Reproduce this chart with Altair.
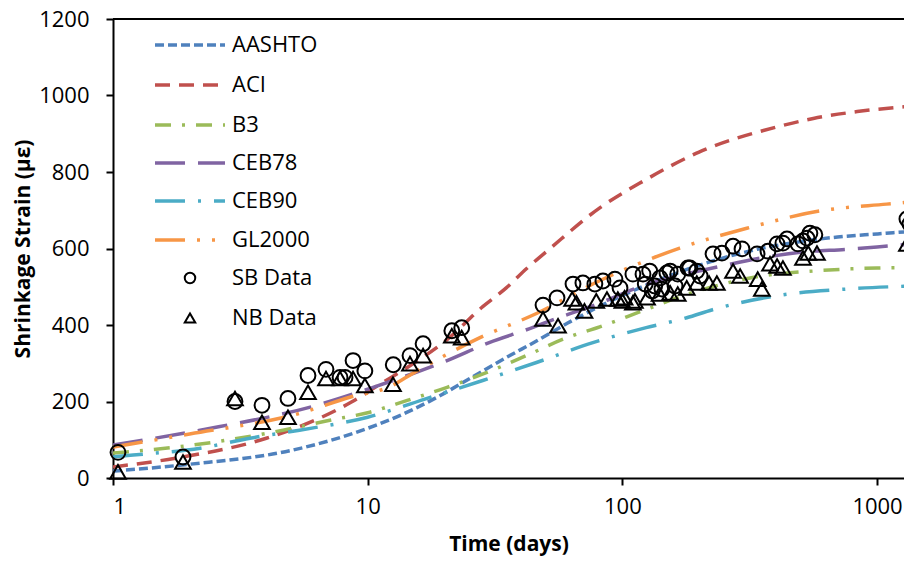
import altair as alt
import pandas as pd

# ---------------- data ----------------
aashto_t = [1, 2, 5, 10, 14.3, 19.2, 25.9, 35, 46, 61, 82, 117, 200, 350, 500, 700, 1000, 1371]
aashto_v = [18, 36, 72, 130, 172, 215, 265, 315, 358, 405, 450, 497, 556, 600, 618, 630, 638, 645]

aci_t = [1, 1.88, 4, 8.6, 11.3, 14.3, 20.5, 28.3, 35, 42, 52, 81, 120, 200, 417, 562, 836, 1371]
aci_v = [29, 55, 104, 198, 247, 289, 362, 448, 497, 547, 600, 705, 775, 852, 920, 940, 958, 972]

b3_t = [1, 2, 4.65, 7.1, 10.2, 14.3, 20.5, 29.4, 42, 60.7, 81.5, 120, 179, 226, 350, 562, 1000, 1371]
b3_v = [65, 85, 125, 151, 172, 203, 237, 276, 320, 367, 395, 437, 480, 500, 528, 541, 549, 550]

ceb78_t = [1, 2.2, 6.3, 10.5, 20.5, 30, 43, 52, 80, 117, 226, 500, 760, 1000, 1371]
ceb78_v = [86, 125, 190, 237, 307, 354, 390, 411, 455, 500, 549, 590, 598, 604, 612]

ceb90_t = [1, 1.2, 2.2, 3.45, 5.4, 10, 17.6, 28.3, 46, 76.6, 124, 179, 226, 417, 762, 1371]
ceb90_v = [55, 60, 78, 104, 125, 159, 211, 255, 302, 354, 393, 419, 440, 478, 494, 502]

gl_t = [1, 2, 5.4, 8.5, 12.5, 14.3, 27.6, 46, 81, 168, 308, 595, 1090, 1371]
gl_v = [81, 115, 169, 211, 242, 265, 367, 430, 515, 601, 653, 698, 716, 722]

sb_t = [1.046, 1.883, 3.013, 3.846, 4.864, 5.83, 6.86, 7.79, 8.15, 8.76, 9.75, 12.6, 14.66,
        16.5, 21.4, 23.4, 48.8, 55.4, 64, 70, 78, 83.9, 93.5, 97.9, 110, 120.5, 123, 128,
        131, 134, 140.5, 143, 149.6, 154, 161, 165, 181, 184, 196, 202, 227, 246, 272, 295,
        338, 373, 405, 427, 443, 489, 512, 531, 545, 570, 1310, 1346]
sb_v = [67, 55, 200, 190, 208, 268, 284, 263, 263, 307, 280, 296, 320,
        351, 385, 393, 452, 471, 507, 510, 507, 515, 520, 497, 533, 533, 507, 541,
        489, 502, 523, 494, 536, 541, 502, 533, 549, 549, 541, 528, 586, 588, 606, 599,
        586, 593, 612, 614, 625, 612, 620, 627, 640, 636, 677, 664]

nb_t = [1.046, 1.883, 3.013, 3.846, 4.864, 5.83, 6.86, 7.79, 8.76, 9.75, 12.57, 14.66, 16.5,
        21.4, 23.4, 48.8, 55.9, 63.5, 66, 71, 79, 87, 96, 100, 102, 110, 112, 125, 140,
        154, 165, 179, 196, 219, 235, 272, 290, 340, 353, 380, 405, 427, 512, 537, 581, 1310]
nb_v = [16, 42, 208, 146, 159, 224, 260, 260, 260, 242, 245, 299, 320,
        372, 367, 416, 398, 468, 458, 437, 463, 468, 468, 463, 471, 458, 463, 471, 481,
        484, 481, 497, 510, 510, 510, 541, 528, 520, 494, 560, 554, 549, 575, 588, 588, 612]

model_names = ["AASHTO", "ACI", "B3", "CEB78", "CEB90", "GL2000"]
model_t = [aashto_t, aci_t, b3_t, ceb78_t, ceb90_t, gl_t]
model_v = [aashto_v, aci_v, b3_v, ceb78_v, ceb90_v, gl_v]
colors = ["#4F81BD", "#C0504D", "#9BBB59", "#8064A2", "#4BACC6", "#F79646"]
dashes = [[9, 4], [15, 9], [16, 11, 3, 11], [30, 13], [30, 13, 3, 13], [30, 12, 3, 12, 3, 12]]

FONT = "Open Sans"
W, H = 791, 459
xs = alt.Scale(type="log", domain=[1, 1276])
ys = alt.Scale(domain=[0, 1200])

xaxis = alt.Axis(values=[1, 10, 100, 1000], format="d", grid=False, title="Time (days)",
                 labelFontSize=22, labelFont=FONT, labelColor="black", labelPadding=11,
                 titleFont=FONT, titleFontSize=21, titleFontWeight="bold", titleColor="black",
                 titlePadding=16, domainColor="black", domainWidth=2, tickColor="black",
                 tickWidth=2, tickSize=7)
yaxis = alt.Axis(values=[0, 200, 400, 600, 800, 1000, 1200], format="d", grid=False,
                 title="Shrinkage Strain (\u00b5\u03b5)",
                 labelFontSize=22, labelFont=FONT, labelColor="black", labelPadding=17,
                 titleFont=FONT, titleFontSize=21, titleFontWeight="bold", titleColor="black",
                 titlePadding=5, domainColor="black", domainWidth=2, tickColor="black",
                 tickWidth=2, tickSize=7)

X = alt.X("t:Q", scale=xs, axis=xaxis)
Y = alt.Y("s:Q", scale=ys, axis=yaxis)

layers = []
for name, t, v, c, d in zip(model_names, model_t, model_v, colors, dashes):
    df = pd.DataFrame({"t": t, "s": v})
    layers.append(alt.Chart(df).mark_line(color=c, strokeWidth=3.5, strokeDash=d,
                                          interpolate="monotone", clip=True).encode(x=X, y=Y))

sb = pd.DataFrame({"t": sb_t, "s": sb_v})
nb = pd.DataFrame({"t": nb_t, "s": nb_v})
layers.append(alt.Chart(sb).mark_point(shape="circle", filled=False, size=220, strokeWidth=2,
                                       color="black", opacity=1).encode(x=X, y=Y))
layers.append(alt.Chart(nb).mark_point(shape="triangle-up", filled=False, size=245, strokeWidth=2,
                                       color="black", opacity=1).encode(x=X, y=Y))

# top frame line
layers.append(alt.Chart(sb).mark_rule(color="black", strokeWidth=2).encode(
    x=alt.value(0), x2=alt.value(W + 10), y=alt.value(0)))

# manual legend
leg_rows = [26, 66, 106, 144, 182, 221, 259, 299]
legend_df = pd.DataFrame({"a": [0]})
for i, (name, c, d) in enumerate(zip(model_names, colors, dashes)):
    yy = leg_rows[i]
    layers.append(alt.Chart(legend_df).mark_rule(color=c, strokeWidth=3.5, strokeDash=d).encode(
        x=alt.value(42), x2=alt.value(112), y=alt.value(yy)))
    layers.append(alt.Chart(legend_df).mark_text(text=name, font=FONT, fontSize=22, color="black",
                                                 align="left", baseline="middle").encode(
        x=alt.value(119), y=alt.value(yy)))
for j, (name, shp) in enumerate([("SB Data", "circle"), ("NB Data", "triangle-up")]):
    yy = leg_rows[6 + j]
    layers.append(alt.Chart(legend_df).mark_point(shape=shp, filled=False, size=110, strokeWidth=2,
                                                  color="black", opacity=1).encode(
        x=alt.value(77), y=alt.value(yy)))
    layers.append(alt.Chart(legend_df).mark_text(text=name, font=FONT, fontSize=22, color="black",
                                                 align="left", baseline="middle").encode(
        x=alt.value(119), y=alt.value(yy)))

chart = alt.layer(*layers).properties(
    width=W, height=H, autosize="none",
    padding={"left": 105, "top": 11, "right": 0, "bottom": 84},
).configure_view(stroke=None)

chart.save("out.html", embed_options={"renderer": "svg", "actions": False})
